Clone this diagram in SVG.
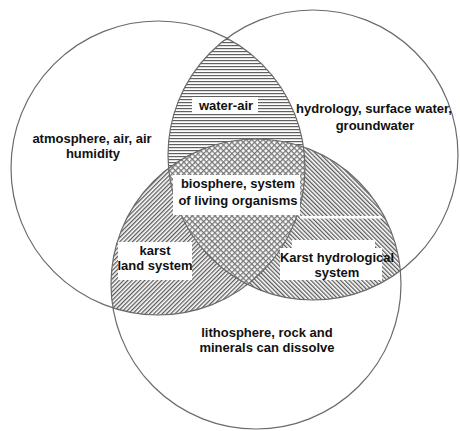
<svg xmlns="http://www.w3.org/2000/svg" width="460" height="431" viewBox="0 0 460 431">
<style>
text{font-family:"Liberation Sans",Arial,sans-serif;font-size:13px;font-weight:bold;fill:#111;text-anchor:middle}
.ring{fill:none;stroke:#6a6a6a;stroke-width:1.2}
.box{fill:#fff}
</style>
<defs>
<pattern id="hor" width="6" height="3" patternUnits="userSpaceOnUse"><rect width="6" height="3" fill="#fff"/><rect y="0" width="6" height="1.2" fill="#606060"/></pattern>
<pattern id="fwd" width="3" height="3" patternUnits="userSpaceOnUse" patternTransform="rotate(45)"><rect width="3" height="3" fill="#fff"/><rect width="1.3" height="3" fill="#5a5a5a"/></pattern>
<pattern id="bwd" width="3" height="3" patternUnits="userSpaceOnUse" patternTransform="rotate(-45)"><rect width="3" height="3" fill="#fff"/><rect width="1.3" height="3" fill="#5a5a5a"/></pattern>
<pattern id="cross" width="4" height="4" patternUnits="userSpaceOnUse" patternTransform="rotate(45)"><rect width="4" height="4" fill="#fff"/><rect width="1.3" height="4" fill="#777"/><rect width="4" height="1.3" fill="#777"/></pattern>
<clipPath id="cL"><circle cx="158" cy="168" r="147"/></clipPath>
<clipPath id="cR"><circle cx="313" cy="155" r="145"/></clipPath>
</defs>
<rect width="460" height="431" fill="#fff"/>
<g id="fills">
<g clip-path="url(#cL)"><circle cx="313" cy="155" r="145" fill="url(#hor)"/><circle cx="256" cy="284" r="145" fill="url(#fwd)"/></g>
<g clip-path="url(#cR)"><circle cx="256" cy="284" r="145" fill="url(#bwd)"/></g>
<g clip-path="url(#cL)"><g clip-path="url(#cR)"><circle cx="256" cy="284" r="145" fill="url(#cross)"/></g></g>
</g>
<g id="atmosphere"><circle class="ring" cx="158" cy="168" r="147"/><text x="92" y="143">atmosphere, air, air</text><text x="93" y="158">humidity</text></g>
<g id="hydrology"><circle class="ring" cx="313" cy="155" r="145"/><text x="374" y="113">hydrology, surface water,</text><text x="375" y="130">groundwater</text></g>
<g id="lithosphere"><circle class="ring" cx="256" cy="284" r="145"/><text x="267" y="337">lithosphere, rock and</text><text x="267" y="352">minerals can dissolve</text></g>
<g id="water-air"><rect class="box" x="192" y="97" width="66" height="17"/><text x="226" y="110">water-air</text></g>
<g id="biosphere"><rect class="box" x="173" y="175" width="127" height="40"/><text x="238" y="188">biosphere, system</text><text x="238" y="205">of living organisms</text></g>
<g id="karst-land"><rect class="box" x="118" y="242" width="74" height="38"/><text x="155" y="255">karst</text><text x="155" y="270">land system</text></g>
<g id="karst-hydro"><rect class="box" x="300" y="216" width="82" height="2.5"/><path class="box" d="M292 240H375V248H382V280H280V248H292Z"/><text x="337" y="262">Karst hydrological</text><text x="337" y="277">system</text></g>
<g id="connectors"/>
</svg>
